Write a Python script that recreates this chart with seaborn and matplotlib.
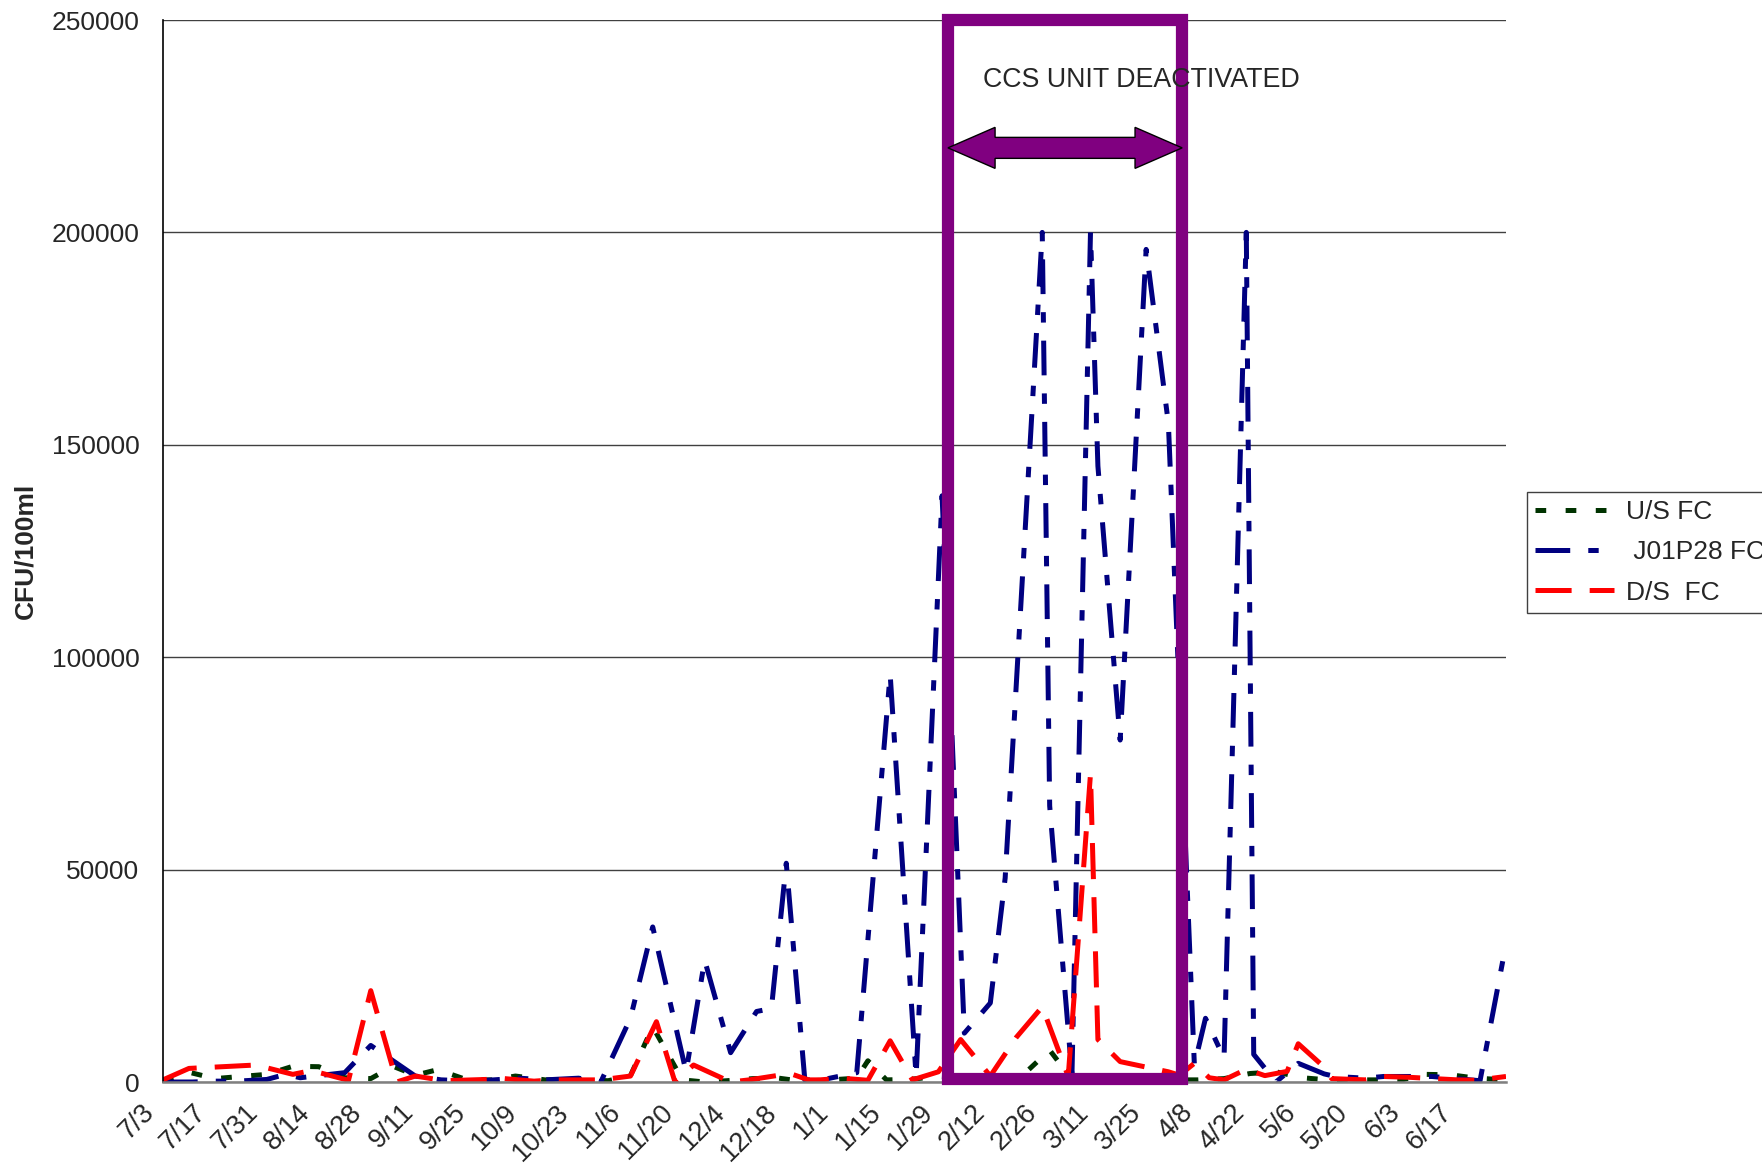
import numpy as np
import pandas as pd
import matplotlib
matplotlib.use('Agg')
import matplotlib.pyplot as plt
import matplotlib.dates as mdates
from matplotlib.lines import Line2D
from matplotlib.patches import Rectangle, Polygon
from matplotlib.transforms import ScaledTranslation
import seaborn as sns

# upstream fecal coliform
us_dates = ['2003-07-03', '2003-07-10', '2003-07-17', '2003-07-24', '2003-07-31', '2003-08-07',
            '2003-08-14', '2003-08-21', '2003-08-28', '2003-09-03', '2003-09-09', '2003-09-15',
            '2003-09-23', '2003-09-30', '2003-10-06', '2003-10-14', '2003-10-21', '2003-10-31',
            '2003-11-06', '2003-11-12', '2003-11-20', '2003-11-26', '2003-12-02', '2003-12-09',
            '2003-12-16', '2003-12-22', '2003-12-30', '2004-01-06', '2004-01-09', '2004-01-14',
            '2004-01-20', '2004-01-28', '2004-02-04', '2004-02-12', '2004-02-19', '2004-02-27',
            '2004-03-04', '2004-03-11', '2004-03-17', '2004-03-24', '2004-03-31', '2004-04-07',
            '2004-04-14', '2004-04-21', '2004-04-28', '2004-05-05', '2004-05-12', '2004-05-19',
            '2004-05-26', '2004-06-01', '2004-06-07', '2004-06-14', '2004-06-21', '2004-06-29']
us_fc = [300, 2300, 800, 1300, 1800, 3700,
         3600, 1000, 800, 3700, 1600, 2900,
         500, 500, 1400, 500, 600, 300,
         1500, 13000, 500, 0, 300, 800,
         900, 200, 500, 900, 5000, 500,
         600, 1300, 1000, 700, 1000, 7500,
         600, 500, 500, 500, 500, 500,
         800, 2000, 2400, 1000, 500, 500,
         500, 500, 1800, 1700, 900, 500]

# J01P28 outfall
j01_dates = ['2003-07-03', '2003-07-11', '2003-07-17', '2003-07-23', '2003-07-31', '2003-08-05',
             '2003-08-09', '2003-08-21', '2003-08-28', '2003-09-09', '2003-09-16', '2003-09-25',
             '2003-10-07', '2003-10-14', '2003-10-23', '2003-10-29', '2003-11-06', '2003-11-12',
             '2003-11-21', '2003-11-26', '2003-12-03', '2003-12-10', '2003-12-14', '2003-12-18',
             '2003-12-23', '2003-12-27', '2004-01-06', '2004-01-15', '2004-01-22', '2004-01-29',
             '2004-02-04', '2004-02-11', '2004-02-15', '2004-02-25', '2004-02-27', '2004-03-04',
             '2004-03-09', '2004-03-11', '2004-03-17', '2004-03-24', '2004-03-30', '2004-04-06',
             '2004-04-09', '2004-04-14', '2004-04-20', '2004-04-22', '2004-04-28', '2004-05-04',
             '2004-05-11', '2004-05-14', '2004-05-22', '2004-05-27', '2004-06-09', '2004-06-22',
             '2004-06-29']
j01_fc = [0, 0, 200, 200, 600, 1800,
          1000, 2200, 8600, 1400, 500, 200,
          900, 500, 900, 0, 15000, 36500,
          2400, 28700, 6900, 16600, 17300, 51500,
          500, 400, 2200, 96000, 1300, 138000,
          11500, 18600, 48000, 200000, 65000, 1600,
          200000, 145000, 80500, 196000, 155000, 4000,
          15000, 5600, 200000, 6500, 0, 4400,
          1900, 1300, 900, 1300, 1300, 300,
          32500]

# downstream fecal coliform
ds_dates = ['2003-07-03', '2003-07-10', '2003-07-28', '2003-08-07', '2003-08-12', '2003-08-22',
            '2003-08-28', '2003-09-04', '2003-09-09', '2003-09-17', '2003-09-28', '2003-10-03',
            '2003-10-11', '2003-10-16', '2003-10-29', '2003-11-06', '2003-11-13', '2003-11-18',
            '2003-11-23', '2003-12-03', '2003-12-08', '2003-12-19', '2003-12-24', '2003-12-27',
            '2004-01-02', '2004-01-09', '2004-01-15', '2004-01-21', '2004-01-28', '2004-02-03',
            '2004-02-11', '2004-02-18', '2004-02-25', '2004-03-03', '2004-03-09', '2004-03-11',
            '2004-03-17', '2004-03-30', '2004-04-02', '2004-04-06', '2004-04-10', '2004-04-14',
            '2004-04-20', '2004-04-25', '2004-05-01', '2004-05-04', '2004-05-11', '2004-05-13',
            '2004-05-22', '2004-05-27', '2004-06-03', '2004-06-16', '2004-06-21', '2004-06-29']
ds_fc = [500, 3200, 4000, 1800, 2700, 400,
         21500, 0, 1400, 300, 600, 800,
         200, 500, 500, 1400, 14200, 0,
         4000, 0, 500, 2000, 500, 500,
         900, 400, 9700, 500, 2400, 10000,
         1400, 10500, 17700, 1300, 72500, 10000,
         4800, 2400, 1600, 4400, 1000, 500,
         3000, 1500, 2500, 9000, 3500, 800,
         500, 1300, 1100, 500, 400, 1300]

series_names = ['U/S FC', ' J01P28 FC', 'D/S  FC']
series_colors = ['#003300', '#000080', '#FF0000']
series_dashes = [(7.7, 14), (25, 13, 7.5, 13), (26, 13)]

tick_labels = ['7/3', '7/17', '7/31', '8/14', '8/28', '9/11', '9/25', '10/9', '10/23', '11/6',
               '11/20', '12/4', '12/18', '1/1', '1/15', '1/29', '2/12', '2/26', '3/11', '3/25',
               '4/8', '4/22', '5/6', '5/20', '6/3', '6/17']
y_ticks = [0, 50000, 100000, 150000, 200000, 250000]

# CCS unit off period (box + arrow)
off_start = '2004-01-30 14:00'
off_end = '2004-04-02 17:00'

sns.set_style('white')
plt.rcParams['font.family'] = ['Liberation Sans', 'DejaVu Sans']
plt.rcParams['lines.scale_dashes'] = False

frames = []
for name, d, v in [(series_names[0], us_dates, us_fc),
                   (series_names[1], j01_dates, j01_fc),
                   (series_names[2], ds_dates, ds_fc)]:
    frames.append(pd.DataFrame({'date': pd.to_datetime(d), 'cfu': v, 'series': name}))
df = pd.concat(frames, ignore_index=True)

fig = plt.figure(figsize=(17.62, 11.68), dpi=100)
ax = fig.add_axes([163 / 1762, 1 - 1082 / 1168, 1343 / 1762, 1062 / 1168])

sns.lineplot(data=df, x='date', y='cfu', hue='series', style='series',
             hue_order=series_names, style_order=series_names,
             palette=dict(zip(series_names, series_colors)),
             dashes=dict(zip(series_names, series_dashes)),
             linewidth=3.6, estimator=None, legend=False, ax=ax)

ax.set_xlim(pd.Timestamp('2003-07-03'), pd.Timestamp('2004-06-29'))
ax.set_ylim(0, 250000)

# ticks
tick_dates = [pd.Timestamp(2003 if int(t.split('/')[0]) >= 7 else 2004,
                           int(t.split('/')[0]), int(t.split('/')[1])) for t in tick_labels]
ax.set_xticks(tick_dates)
ax.set_xticklabels(tick_labels, rotation=45, ha='right', va='center',
                   rotation_mode='anchor', fontsize=19.5)
ax.set_yticks(y_ticks)
ax.set_yticklabels([str(y) for y in y_ticks], fontsize=19)
ax.tick_params(axis='x', direction='out', length=8, width=1.2, color='#808080', pad=11)
ax.tick_params(axis='y', direction='out', length=8, width=1, color='black', pad=9)
shift = ScaledTranslation(-13 / 100, 0, fig.dpi_scale_trans)
for lab in ax.get_xticklabels():
    lab.set_transform(lab.get_transform() + shift)

ax.set_xlabel('')
ax.set_ylabel('')
ax.yaxis.grid(True, color='#404040', linewidth=1)
ax.xaxis.grid(False)
ax.set_axisbelow(True)
for s in ['top', 'right']:
    ax.spines[s].set_visible(False)
ax.spines['left'].set_color('black')
ax.spines['left'].set_linewidth(1.2)
ax.spines['bottom'].set_color('#808080')
ax.spines['bottom'].set_linewidth(1.8)

fig.text(25 / 1762, 1 - 551 / 1168, 'CFU/100ml', rotation=90, ha='center', va='center',
         fontsize=19, fontweight='bold')

# purple box marking the deactivated period
x0 = mdates.date2num(pd.Timestamp(off_start))
x1 = mdates.date2num(pd.Timestamp(off_end))
box = Rectangle((x0, 700), x1 - x0, 250000 - 700, fill=False, edgecolor='#800080',
                linewidth=8.8, joinstyle='miter', clip_on=False, zorder=6)
ax.add_patch(box)

# double headed block arrow
ym, sh, hh, hl = 219900, 2470, 4830, 12.7
arrow_pts = [(x0, ym), (x0 + hl, ym + hh), (x0 + hl, ym + sh), (x1 - hl, ym + sh),
             (x1 - hl, ym + hh), (x1, ym), (x1 - hl, ym - hh), (x1 - hl, ym - sh),
             (x0 + hl, ym - sh), (x0 + hl, ym - hh)]
ax.add_patch(Polygon(arrow_pts, closed=True, facecolor='#800080', edgecolor='black',
                     linewidth=1, zorder=7, clip_on=False))

ax.text(pd.Timestamp('2004-02-09'), 234200, 'CCS UNIT DEACTIVATED', fontsize=19.3,
        ha='left', va='baseline', zorder=8)

# legend
handles = [Line2D([], [], color=c, linewidth=3.6, dashes=d)
           for c, d in zip(series_colors, series_dashes)]
leg = fig.legend(handles, series_names, loc='upper left',
                 bbox_to_anchor=(1527 / 1762, 1 - 492 / 1168), fontsize=19,
                 frameon=True, fancybox=False, edgecolor='#404040', framealpha=1,
                 handlelength=3.0, handletextpad=0.45, borderpad=0.3,
                 labelspacing=0.62, borderaxespad=0)
leg.get_frame().set_linewidth(1)

fig.savefig('out.png', dpi=100, facecolor='white')
